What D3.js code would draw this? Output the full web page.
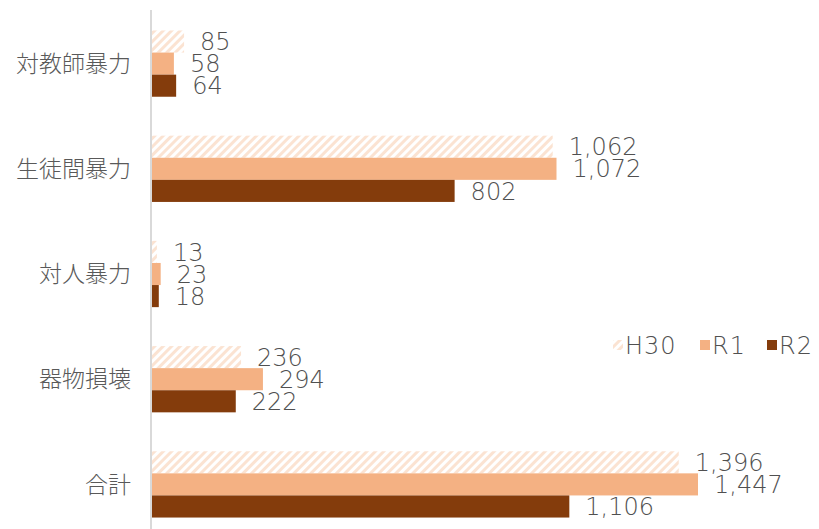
<!DOCTYPE html>
<html>
<head>
<meta charset="utf-8">
<script src="https://cdn.jsdelivr.net/npm/d3@7"></script>
<style>
  body { margin: 0; background: #fff; }
  svg text { font-family: "Noto Sans CJK JP", "DejaVu Sans", sans-serif; fill: #595959; }
  svg text.val, svg text.leg { font-family: "DejaVu Sans", sans-serif; font-weight: 200; fill: #505050; }
</style>
</head>
<body>
<div id="chart"></div>
<script>
var categories = ["対教師暴力", "生徒間暴力", "対人暴力", "器物損壊", "合計"];
var seriesNames = ["H30", "R1", "R2"];
var h30 = [85, 1062, 13, 236, 1396];
var r1 = [58, 1072, 23, 294, 1447];
var r2 = [64, 802, 18, 222, 1106];

var width = 819;
var height = 529;
var colors = { "R1": "#F4B183", "R2": "#843C0C" };

var svg = d3.select("#chart").append("svg")
  .attr("width", width)
  .attr("height", height);

// hatch for H30
var defs = svg.append("defs");
var pat = defs.append("pattern")
  .attr("id", "hatch")
  .attr("patternUnits", "userSpaceOnUse")
  .attr("width", 6)
  .attr("height", 6)
  .attr("patternTransform", "rotate(45)");
pat.append("rect").attr("width", 6).attr("height", 6).attr("fill", "#fff");
pat.append("rect").attr("width", 3).attr("height", 6).attr("fill", "#FBE3D2");

var x = d3.scaleLinear().domain([0, 1447]).range([152, 698]);
var y = d3.scaleBand().domain(categories).range([11, 537]).paddingInner(0.37).paddingOuter(0.185);
var ySub = d3.scaleBand().domain(seriesNames).range([0, y.bandwidth()]);

var rows = categories.map(function (c, i) {
  return { cat: c, vals: [
    { s: "H30", v: h30[i] },
    { s: "R1", v: r1[i] },
    { s: "R2", v: r2[i] }
  ] };
});

var g = svg.selectAll("g.cat")
  .data(rows)
  .enter().append("g")
  .attr("class", "cat")
  .attr("transform", function (d) { return "translate(0," + y(d.cat) + ")"; });

g.selectAll("rect")
  .data(function (d) { return d.vals; })
  .enter().append("rect")
  .attr("x", x(0))
  .attr("y", function (d) { return ySub(d.s); })
  .attr("width", function (d) { return x(d.v) - x(0); })
  .attr("height", ySub.bandwidth())
  .attr("fill", function (d) { return d.s === "H30" ? "url(#hatch)" : colors[d.s]; });

var fmt = d3.format(",");
g.selectAll("text.val")
  .data(function (d) { return d.vals; })
  .enter().append("text")
  .attr("class", "val")
  .attr("x", function (d) { return x(d.v) + 16; })
  .attr("y", function (d) { return ySub(d.s) + ySub.bandwidth() / 2; })
  .attr("dy", "0.36em")
  .attr("font-size", 24)
  .text(function (d) { return fmt(d.v); });

// category axis
svg.append("line")
  .attr("x1", 151).attr("x2", 151)
  .attr("y1", 10).attr("y2", height)
  .attr("stroke", "#D9D9D9").attr("stroke-width", 2);

svg.selectAll("text.cat")
  .data(categories)
  .enter().append("text")
  .attr("class", "cat")
  .attr("x", 131)
  .attr("y", function (d) { return y(d) + y.bandwidth() / 2; })
  .attr("dy", "0.36em")
  .attr("text-anchor", "end")
  .attr("font-size", 23)
  .attr("font-weight", 300)
  .text(function (d) { return d; });

// legend
var legendX = [613, 700, 767];
var lg = svg.selectAll("g.legend")
  .data(seriesNames)
  .enter().append("g")
  .attr("class", "legend")
  .attr("transform", function (d, i) { return "translate(" + legendX[i] + ",345)"; });
lg.append("rect")
  .attr("x", 0).attr("y", -5)
  .attr("width", 10).attr("height", 10)
  .attr("fill", function (d) { return d === "H30" ? "url(#hatch)" : colors[d]; });
lg.append("text")
  .attr("class", "leg")
  .attr("x", 12)
  .attr("dy", "0.36em")
  .attr("font-size", 24)
  .attr("letter-spacing", 1)
  .text(function (d) { return d; });
</script>
</body>
</html>
